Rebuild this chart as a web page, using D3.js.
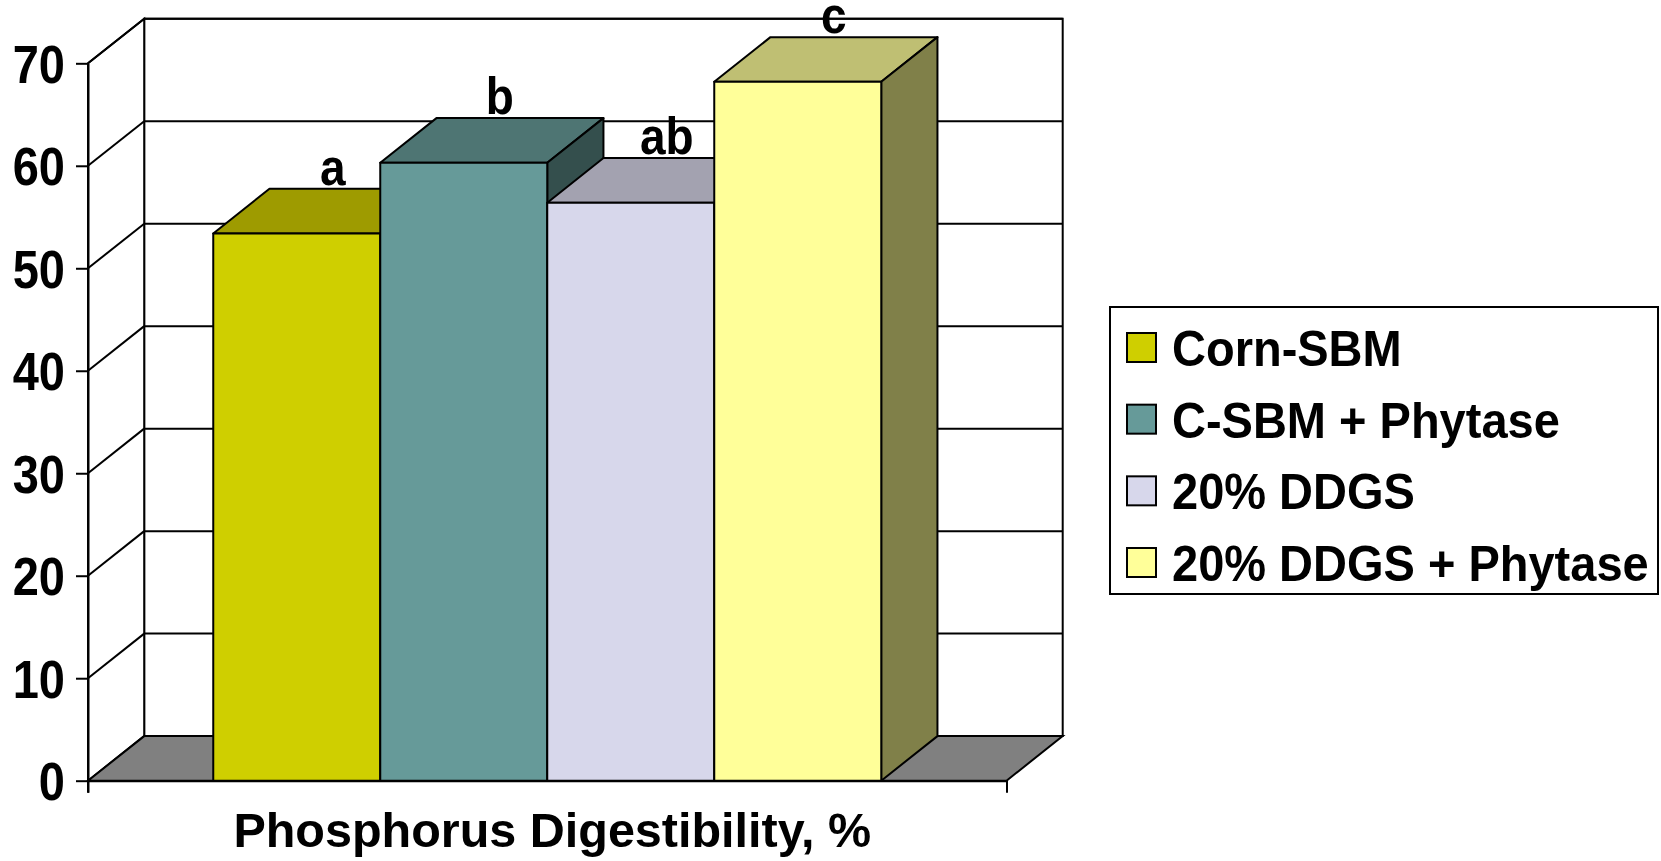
<!DOCTYPE html>
<html>
<head>
<meta charset="utf-8">
<script src="https://cdn.jsdelivr.net/npm/d3@7"></script>
<style>
  html, body { margin: 0; padding: 0; background: #fff; }
  svg { display: block; }
  text { font-family: "Liberation Sans", Arial, sans-serif; font-weight: bold; fill: #000; }
</style>
</head>
<body>
<svg id="chart" width="1661" height="861"></svg>
<script>
// ---- data ----
const categories = ["Phosphorus Digestibility, %"];
const seriesNames = ["Corn-SBM", "C-SBM + Phytase", "20% DDGS", "20% DDGS + Phytase"];
const values = [53.4, 60.3, 56.4, 68.2];
const letters = ["a", "b", "ab", "c"];
const yTicks = [0, 10, 20, 30, 40, 50, 60, 70];

// ---- colours ----
const frontColors = ["#cfcf00", "#669a99", "#d7d7eb", "#ffff99"];
const topColors   = ["#9e9b00", "#4e7573", "#a3a2b0", "#bfbf73"];
const sideColors  = ["#76740a", "#344f4d", "#7b7a86", "#808049"];

// ---- layout ----
const svg = d3.select("#chart");
const DX = 56.2, DY = -44.6;
const y = d3.scaleLinear().domain([0, 70]).range([780.7, 63.3]);
const xCat = d3.scaleBand().domain(categories).range([88, 1006.5]);
const xSer = d3.scaleBand().domain(seriesNames).range([0, xCat.bandwidth()])
  .paddingInner(0).paddingOuter(0.75);
const xL = xCat.range()[0], xR = xCat.range()[1];
const y0 = y(0), yMax = y(70);
const SW = 2;
const FONT = '"Liberation Sans", Arial, sans-serif';

const pts = a => a.map(p => p.join(",")).join(" ");

// back wall
svg.append("polygon")
  .attr("points", pts([[xL + DX, yMax + DY], [xR + DX, yMax + DY], [xR + DX, y0 + DY], [xL + DX, y0 + DY]]))
  .attr("fill", "#fff").attr("stroke", "#000").attr("stroke-width", SW);
// left wall
svg.append("polygon")
  .attr("points", pts([[xL, yMax], [xL + DX, yMax + DY], [xL + DX, y0 + DY], [xL, y0]]))
  .attr("fill", "#fff").attr("stroke", "#000").attr("stroke-width", SW);

// gridlines
const grid = svg.append("g").attr("stroke", "#000").attr("stroke-width", SW);
yTicks.filter(t => t > 0).forEach(t => {
  grid.append("line").attr("x1", xL + DX).attr("x2", xR + DX)
    .attr("y1", y(t) + DY).attr("y2", y(t) + DY);
  grid.append("line").attr("x1", xL).attr("x2", xL + DX)
    .attr("y1", y(t)).attr("y2", y(t) + DY);
});

// floor
svg.append("polygon")
  .attr("points", pts([[xL, y0], [xR, y0], [xR + DX, y0 + DY], [xL + DX, y0 + DY]]))
  .attr("fill", "#808080").attr("stroke", "#000").attr("stroke-width", SW);

// bars
const bw = xSer.bandwidth();
const bars = svg.append("g");
seriesNames.forEach((s, i) => {
  const xl = xCat(categories[0]) + xSer(s), xr = xl + bw, yt = y(values[i]);
  const g = bars.append("g").attr("stroke", "#000").attr("stroke-width", SW).attr("stroke-linejoin", "round");
  g.append("polygon").attr("points", pts([[xl, yt], [xr, yt], [xr + DX, yt + DY], [xl + DX, yt + DY]]))
    .attr("fill", topColors[i]);
  g.append("polygon").attr("points", pts([[xr, yt], [xr + DX, yt + DY], [xr + DX, y0 + DY], [xr, y0]]))
    .attr("fill", sideColors[i]);
  g.append("rect").attr("x", xl).attr("y", yt).attr("width", bw).attr("height", y0 - yt)
    .attr("fill", frontColors[i]);
});

// y axis
const yAxis = svg.append("g").attr("transform", `translate(${xL},0)`)
  .call(d3.axisLeft(y).tickValues(yTicks).tickSizeInner(12).tickSizeOuter(0).tickPadding(11));
yAxis.selectAll("path, line").attr("stroke", "#000").attr("stroke-width", SW);
yAxis.selectAll("text").style("font-size", "47px").style("font-family", FONT)
  .style("font-weight", "bold").attr("fill", "#000").attr("dy", "0.36em")
  .attr("transform", "scale(1,1.13)");
svg.append("line").attr("x1", xL).attr("x2", xL).attr("y1", y0).attr("y2", y0 + 12)
  .attr("stroke", "#000").attr("stroke-width", SW);

// x axis
const xAxis = svg.append("g").attr("transform", `translate(0,${y0})`)
  .call(d3.axisBottom(xCat).tickSizeInner(0).tickSizeOuter(12).tickPadding(0));
xAxis.selectAll("path").attr("stroke", "#000").attr("stroke-width", SW);
xAxis.selectAll("text").style("font-size", "48.5px").style("font-family", FONT)
  .style("font-weight", "bold").attr("fill", "#000")
  .attr("y", 0).attr("dy", 0)
  .attr("transform", "translate(5,66)");

// significance letters
svg.append("g").selectAll("text").data(letters).join("text")
  .attr("transform", (d, i) => {
    const cx = xCat(categories[0]) + xSer(seriesNames[i]) + bw / 2 + DX / 2 + 8;
    const cy = y(values[i]) + DY - 4;
    return `translate(${cx},${cy}) scale(1,1.12)`;
  })
  .attr("text-anchor", "middle").style("font-size", "46px")
  .text(d => d);

// legend
const leg = svg.append("g");
leg.append("rect").attr("x", 1110).attr("y", 307).attr("width", 548).attr("height", 287)
  .attr("fill", "#fff").attr("stroke", "#000").attr("stroke-width", SW);
const rowY = d3.scalePoint().domain(seriesNames).range([348, 563]);
seriesNames.forEach((s, i) => {
  leg.append("rect").attr("x", 1127).attr("y", rowY(s) - 15).attr("width", 29).attr("height", 29)
    .attr("fill", frontColors[i]).attr("stroke", "#000").attr("stroke-width", SW);
  leg.append("text").attr("transform", `translate(1172,${rowY(s) + 18}) scale(1,1.08)`)
    .style("font-size", "47px").text(s);
});
</script>
</body>
</html>
